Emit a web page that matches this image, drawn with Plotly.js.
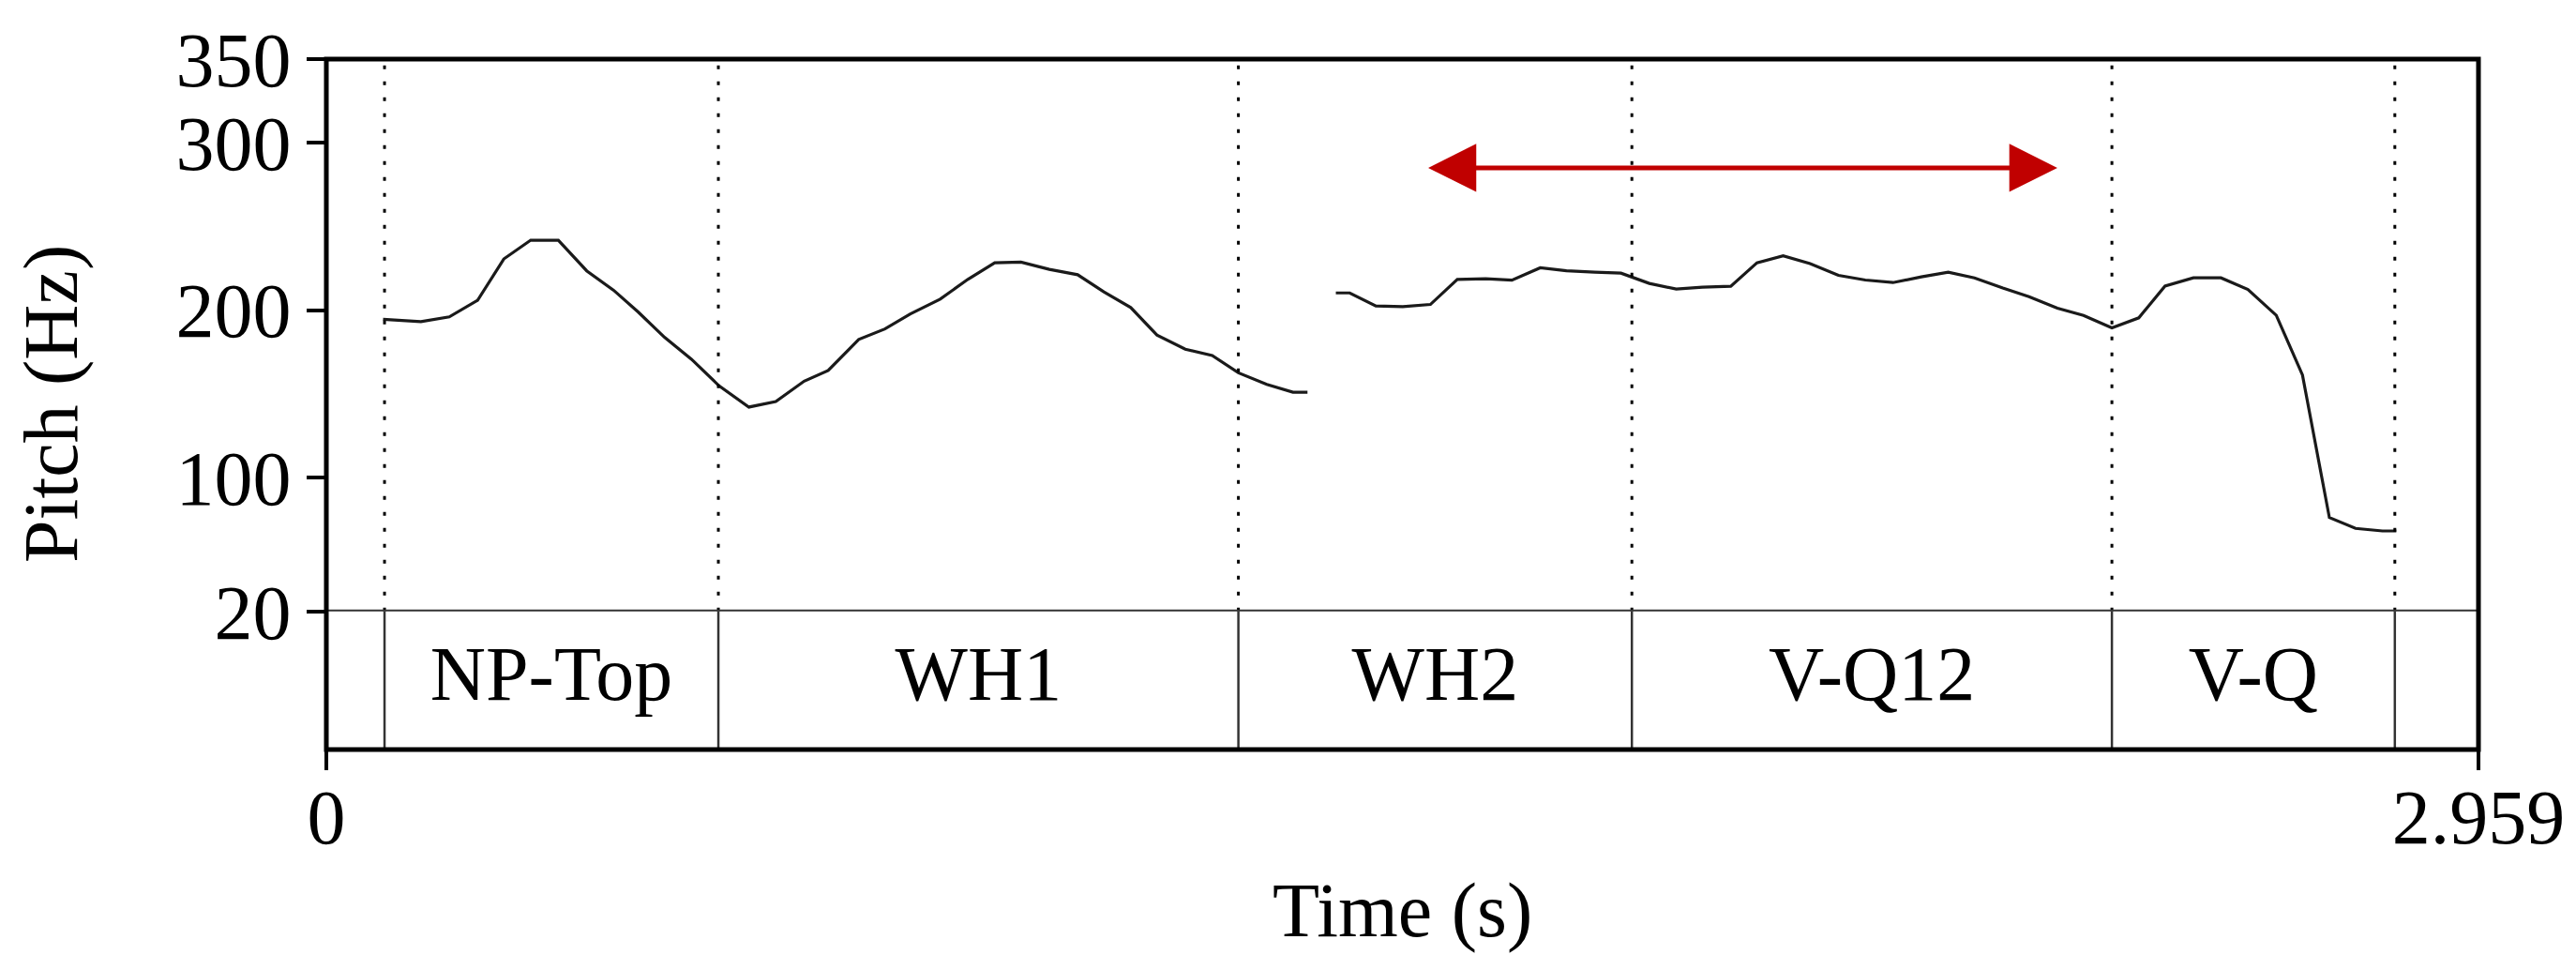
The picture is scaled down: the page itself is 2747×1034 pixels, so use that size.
<!DOCTYPE html>
<html>
<head>
<meta charset="utf-8">
<script src="https://cdn.plot.ly/plotly-3.0.1.min.js"></script>
<style>
  html, body { margin: 0; padding: 0; background: white; }
  #chart { width: 2747px; height: 1034px; }
</style>
</head>
<body>
<div id="chart"></div>
<script>
/* ── Data read off the pitch track ─────────────────────────── */
// first voiced stretch (NP-Top .. WH1 .. start of WH2)
const seg1Time  = [0.078, 0.130, 0.169, 0.208, 0.244, 0.281, 0.319, 0.358, 0.395, 0.429,
                   0.465, 0.502, 0.540, 0.581, 0.618, 0.657, 0.690, 0.732, 0.768, 0.803,
                   0.844, 0.882, 0.919, 0.955, 0.994, 1.033, 1.069, 1.106, 1.142, 1.181,
                   1.218, 1.254, 1.293, 1.329, 1.349];
const seg1Pitch = [194.5, 193.2, 196.0, 205.9, 230.6, 241.8, 241.8, 223.5, 211.9, 198.8,
                   183.8, 170.7, 154.8, 142.1, 145.4, 157.6, 164.0, 182.5, 188.8, 197.8,
                   206.6, 218.4, 228.3, 228.7, 224.4, 221.2, 210.9, 201.6, 185.1, 176.7,
                   172.9, 162.6, 155.7, 151.0, 151.0];

// second voiced stretch (WH2 .. V-Q12 .. V-Q)
const seg2Time  = [1.388, 1.407, 1.443, 1.480, 1.518, 1.555, 1.594, 1.630, 1.669, 1.705,
                   1.744, 1.780, 1.819, 1.856, 1.892, 1.931, 1.967, 2.003, 2.040, 2.079,
                   2.116, 2.154, 2.193, 2.230, 2.266, 2.305, 2.341, 2.380, 2.416, 2.455,
                   2.492, 2.528, 2.567, 2.605, 2.642, 2.681, 2.717, 2.754, 2.790, 2.827,
                   2.846];
const seg2Pitch = [210.3, 210.3, 202.5, 202.1, 203.4, 218.4, 218.8, 217.9, 225.3, 223.5,
                   222.7, 222.1, 216.0, 212.6, 213.7, 214.3, 228.3, 232.5, 227.8, 220.8,
                   218.0, 216.5, 219.9, 222.7, 219.3, 213.2, 208.1, 201.2, 196.9, 189.4,
                   195.4, 214.4, 219.3, 219.3, 212.4, 196.9, 161.3, 76.1, 69.6, 68.1,
                   68.1];

// annotation tier
const boundaries = [0.080, 0.539, 1.254, 1.795, 2.455, 2.844];
const tierLabels = ['NP-Top', 'WH1', 'WH2', 'V-Q12', 'V-Q'];

// axes
const pitchTicks = [20, 100, 200, 300, 350];
const timeTicks  = [0, 2.959];
const timeText   = ['0', '2.959'];

// red double arrow over WH2 / V-Q12
const arrowTime = [1.513, 2.380];
const arrowHz   = 285;

/* ── Styling ───────────────────────────────────────────────── */
const FONT = 'Liberation Serif, Times New Roman, serif';
const FS   = 82;
const INK  = '#000000';

const tierMid = tierLabels.map((_, i) => (boundaries[i] + boundaries[i + 1]) / 2);

const traces = [
  { x: seg1Time, y: seg1Pitch, xaxis: 'x', yaxis: 'y', mode: 'lines',
    line: { color: '#1a1a1a', width: 3.2 }, hoverinfo: 'x+y' },
  { x: seg2Time, y: seg2Pitch, xaxis: 'x', yaxis: 'y', mode: 'lines',
    line: { color: '#1a1a1a', width: 3.2 }, hoverinfo: 'x+y' },
  { x: tierMid, y: tierLabels.map(() => 0.5), xaxis: 'x', yaxis: 'y2',
    mode: 'text', text: tierLabels, textposition: 'middle center',
    textfont: { family: FONT, size: FS, color: INK }, hoverinfo: 'skip' },
];

/* dotted boundary lines in the pitch panel, solid ones in the tier */
const shapes = [];
boundaries.forEach(b => {
  shapes.push({ type: 'line', xref: 'x', yref: 'y', x0: b, x1: b, y0: 20, y1: 350,
                line: { color: INK, width: 3, dash: '4px,13px' } });
  shapes.push({ type: 'line', xref: 'x', yref: 'y2', x0: b, x1: b, y0: 0, y1: 1,
                line: { color: '#333333', width: 2.5 } });
});
// divider between pitch panel and tier
shapes.push({ type: 'line', xref: 'paper', yref: 'y', x0: 0, x1: 1, y0: 20, y1: 20,
              line: { color: '#333333', width: 4 } });
// outer frame
shapes.push({ type: 'rect', xref: 'paper', yref: 'paper', x0: 0, x1: 1, y0: 0, y1: 1,
              line: { color: INK, width: 5 } });

const layout = {
  width: 2747, height: 1034,
  paper_bgcolor: 'white', plot_bgcolor: 'white',
  font: { family: FONT, size: FS, color: INK },
  margin: { l: 348, r: 104, t: 63, b: 235 },
  showlegend: false,
  xaxis: {
    domain: [0, 1], anchor: 'y2', range: [0, 2.959],
    tickvals: timeTicks, ticktext: timeText,
    ticks: 'outside', ticklen: 21, tickwidth: 4, tickcolor: INK,
    ticklabelstandoff: -20,
    showline: false, showgrid: false, zeroline: false,
    tickfont: { family: FONT, size: FS, color: INK },
  },
  yaxis: {
    domain: [0.2, 1], anchor: 'x', range: [20, 350],
    tickvals: pitchTicks,
    ticks: 'outside', ticklen: 20, tickwidth: 4, tickcolor: INK,
    showline: false, showgrid: false, zeroline: false,
    tickfont: { family: FONT, size: FS, color: INK },
  },
  yaxis2: {
    domain: [0, 0.2], anchor: 'x', range: [0, 1],
    showticklabels: false, ticks: '', showline: false,
    showgrid: false, zeroline: false,
  },
  shapes,
  annotations: [
    { text: 'Pitch (Hz)', textangle: -90, xref: 'paper', yref: 'paper',
      x: 0, y: 0.5, xanchor: 'center', yanchor: 'middle', xshift: -294,
      showarrow: false, font: { family: FONT, size: FS, color: INK } },
    { text: 'Time (s)', xref: 'paper', yref: 'paper',
      x: 0.5, y: 0, xanchor: 'center', yanchor: 'middle', yshift: -171,
      showarrow: false, font: { family: FONT, size: FS, color: INK } },
    { text: '', xref: 'x', yref: 'y', axref: 'x', ayref: 'y',
      x: arrowTime[1], y: arrowHz, ax: arrowTime[0], ay: arrowHz,
      showarrow: true, arrowside: 'end+start',
      arrowhead: 2, startarrowhead: 2, arrowsize: 2.05, startarrowsize: 2.05,
      arrowwidth: 5, arrowcolor: '#C00000' },
  ],
};

Plotly.newPlot('chart', traces, layout, { displayModeBar: false, staticPlot: true });
</script>
</body>
</html>
